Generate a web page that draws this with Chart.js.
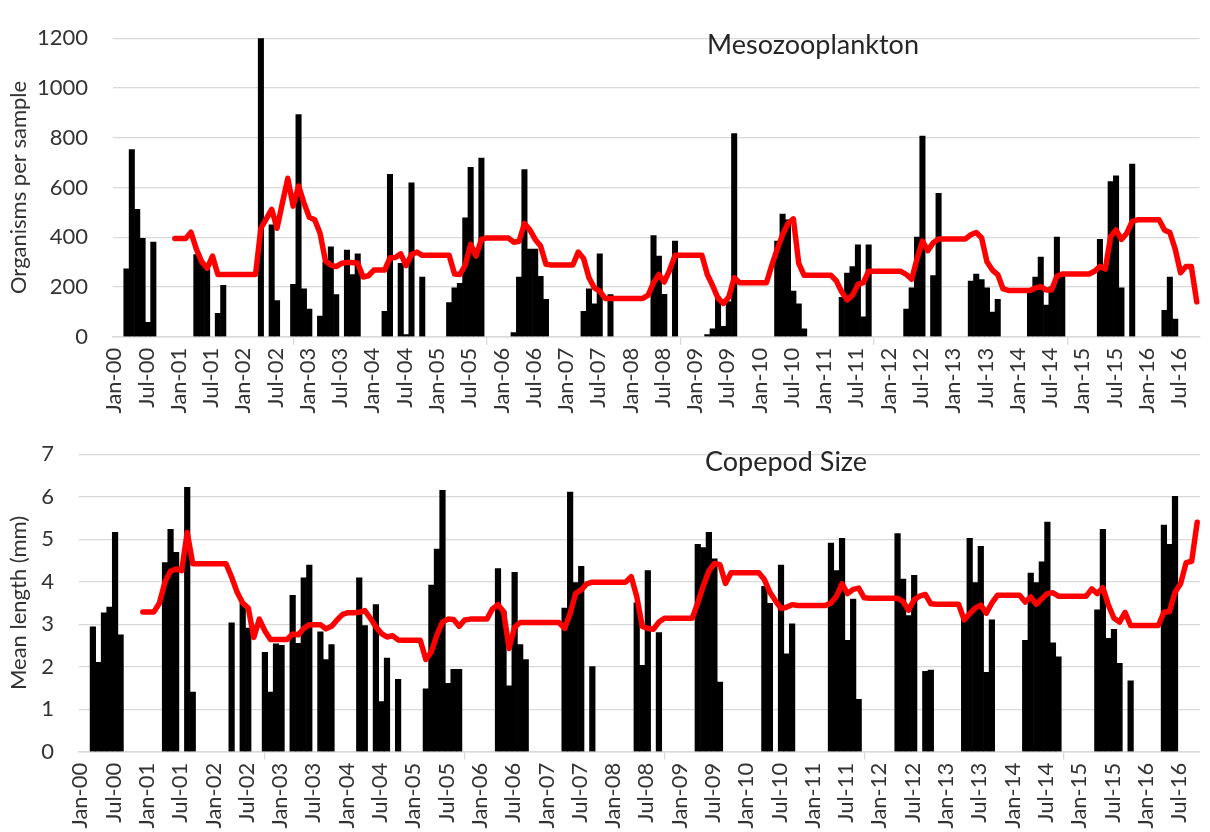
<!DOCTYPE html>
<html>
<head>
<meta charset="utf-8">
<script src="https://cdn.jsdelivr.net/npm/chart.js@4.4.1/dist/chart.umd.min.js"></script>
<style>
  html, body { margin: 0; padding: 0; background: #fff; overflow: hidden; }
  #wrap { position: relative; width: 1210px; height: 832px; }
  canvas { position: absolute; left: 0; }
  .ttl { position: absolute; font-family: Lato, 'Noto Sans', sans-serif; color: #262626;
         white-space: nowrap; transform: translate(-50%, -50%); font-size: 27px; }
</style>
</head>
<body>
<div id="wrap">
  <canvas id="meso" width="1210" height="416" style="top:0"></canvas>
  <canvas id="cope" width="1210" height="416" style="top:416px"></canvas>
  <div class="ttl" style="left:813px;top:43px">Mesozooplankton</div>
  <div class="ttl" style="left:786px;top:460px">Copepod Size</div>
</div>
<script>
// Monthly samples, Jan-00 .. Oct-16 (one row per year)
const monthNames = ['Jan','Feb','Mar','Apr','May','Jun','Jul','Aug','Sep','Oct','Nov','Dec'];
const months = [];
for (let y = 0; y <= 16; y++) {
  for (let m = 0; m < 12; m++) {
    if (months.length < 202) months.push(monthNames[m] + '-' + String(y).padStart(2, '0'));
  }
}

// Mesozooplankton abundance (organisms per sample)
const mesoCounts = [
  null, null, 273, 752, 512, 395, 58, 380, null, null, null, null,
  null, null, null, 330, 300, 270, null, 94, 207, null, null, null,
  null, null, null, 1200, null, 450, 145, null, null, 211, 893, 192,
  111, null, 83, 300, 361, 169, null, 348, 250, 333, null, null,
  null, null, 102, 653, null, 295, 9, 619, null, 240, null, null,
  null, null, 137, 196, 215, 478, 681, 330, 718, null, null, null,
  null, null, 17, 240, 672, 352, 352, 243, 150, null, null, null,
  null, null, null, 102, 192, 132, 333, null, 169, null, null, null,
  null, null, null, null, 407, 324, 170, null, 384, null, null, null,
  null, null, 9, 32, 160, 42, 141, 817, null, null, null, null,
  null, null, null, 384, 493, 470, 183, 132, 32, null, null, null,
  null, null, null, 158, 256, 282, 369, 80, 369, null, null, null,
  null, null, null, 111, 196, 400, 807, null, 246, 576, null, null,
  null, null, null, 224, 252, 230, 196, 99, 150, null, null, null,
  null, null, 190, 240, 320, 127, 200, 400, 245, null, null, null,
  null, null, null, 391, 280, 624, 647, 196, null, 694, null, null,
  null, null, null, 106, 240, 71, null, null, null, null
];

// Running mean of abundance
const mesoMean = [
  null, null, null, null, null, null, null, null, null, null, null, 395,
  395, 395, 420, 352, 301, 275, 324, 250, 250, 250, 250, 250,
  250, 250, 250, 436, 474, 512, 436, 538, 637, 525, 606, 538,
  480, 470, 416, 304, 288, 282, 295, 298, 298, 295, 240, 245,
  268, 268, 268, 317, 318, 333, 286, 330, 340, 327, 327, 327,
  327, 327, 327, 252, 250, 288, 371, 324, 391, 397, 397, 397,
  397, 397, 380, 384, 455, 430, 391, 365, 291, 288, 288, 288,
  288, 288, 340, 314, 237, 196, 183, 154, 154, 154, 154, 154,
  154, 154, 154, 167, 217, 250, 220, 268, 327, 327, 327, 327,
  327, 327, 250, 205, 154, 134, 160, 237, 217, 217, 217, 217,
  217, 217, 288, 352, 410, 455, 474, 295, 247, 247, 247, 247,
  247, 247, 224, 180, 148, 167, 210, 217, 263, 263, 263, 263,
  263, 263, 263, 250, 231, 314, 384, 346, 378, 393, 393, 393,
  393, 393, 393, 410, 419, 397, 301, 268, 250, 192, 186, 186,
  186, 186, 186, 196, 201, 188, 188, 243, 252, 252, 252, 252,
  252, 252, 263, 282, 272, 403, 429, 391, 416, 464, 470, 470,
  470, 470, 470, 429, 419, 352, 257, 282, 282, 140
];

// Copepod mean length (mm)
const copepodSize = [
  null, null, 2.94, 2.10, 3.27, 3.40, 5.16, 2.75, null, null, null, null,
  null, null, null, 4.45, 5.23, 4.69, null, 6.22, 1.40, null, null, null,
  null, null, null, 3.03, null, 3.49, 2.91, null, null, 2.34, 1.40, 2.54,
  2.50, null, 3.68, 2.55, 4.09, 4.39, null, 2.82, 2.17, 2.52, null, null,
  null, null, 4.09, 2.97, null, 3.46, 1.18, 2.20, null, 1.70, null, null,
  null, null, 1.48, 3.92, 4.77, 6.15, 1.61, 1.94, 1.94, null, null, null,
  null, null, null, 4.31, 3.30, 1.55, 4.22, 2.52, 2.17, null, null, null,
  null, null, null, 3.38, 6.11, 3.98, 4.36, null, 2.00, null, null, null,
  null, null, null, null, 3.50, 2.03, 4.26, null, 2.80, null, null, null,
  null, null, null, 4.88, 4.80, 5.16, 4.54, 1.64, null, null, null, null,
  null, null, null, 3.89, 3.49, null, 4.39, 2.30, 3.01, null, null, null,
  null, null, null, 4.91, 4.26, 5.02, 2.62, 3.59, 1.23, null, null, null,
  null, null, null, 5.13, 4.06, 3.20, 4.15, null, 1.89, 1.92, null, null,
  null, null, null, 3.10, 5.02, 3.98, 4.83, 1.87, 3.10, null, null, null,
  null, null, 2.62, 4.20, 3.98, 4.47, 5.40, 2.56, 2.23, null, null, null,
  null, null, null, 3.34, 5.23, 2.67, 2.88, 2.08, null, 1.67, null, null,
  null, null, null, 5.33, 4.88, 6.01, null, null, null, null
];

// Running mean of copepod length
const copepodMean = [
  null, null, null, null, null, null, null, null, null, null, null, 3.29,
  3.29, 3.29, 3.50, 4.00, 4.25, 4.30, 4.26, 5.16, 4.42, 4.42, 4.42, 4.42,
  4.42, 4.42, 4.42, 4.11, 3.75, 3.50, 3.38, 2.69, 3.12, 2.84, 2.64, 2.64,
  2.64, 2.64, 2.77, 2.75, 2.90, 2.99, 2.99, 2.99, 2.89, 2.95, 3.10, 3.23,
  3.27, 3.27, 3.28, 3.32, 3.14, 2.94, 2.78, 2.70, 2.73, 2.63, 2.62, 2.62,
  2.62, 2.62, 2.17, 2.35, 2.75, 3.05, 3.12, 3.11, 2.95, 3.10, 3.12, 3.12,
  3.12, 3.12, 3.36, 3.46, 3.30, 2.43, 2.93, 3.04, 3.04, 3.04, 3.04, 3.04,
  3.04, 3.04, 3.04, 2.90, 3.25, 3.72, 3.81, 3.95, 3.99, 3.99, 3.99, 3.99,
  3.99, 3.99, 3.99, 4.12, 3.65, 2.95, 2.90, 2.88, 3.05, 3.14, 3.14, 3.14,
  3.14, 3.14, 3.14, 3.50, 3.90, 4.25, 4.43, 4.40, 3.96, 4.21, 4.21, 4.21,
  4.21, 4.21, 4.21, 4.05, 3.75, 3.55, 3.37, 3.40, 3.46, 3.44, 3.44, 3.44,
  3.44, 3.44, 3.44, 3.50, 3.66, 3.95, 3.72, 3.82, 3.85, 3.62, 3.61, 3.61,
  3.61, 3.61, 3.61, 3.61, 3.53, 3.33, 3.58, 3.66, 3.70, 3.48, 3.47, 3.47,
  3.47, 3.47, 3.47, 3.10, 3.25, 3.38, 3.45, 3.26, 3.50, 3.68, 3.68, 3.68,
  3.68, 3.68, 3.52, 3.64, 3.47, 3.60, 3.72, 3.74, 3.66, 3.66, 3.66, 3.66,
  3.66, 3.66, 3.83, 3.72, 3.86, 3.45, 3.14, 3.05, 3.28, 2.97, 2.97, 2.97,
  2.97, 2.97, 2.97, 3.28, 3.30, 3.75, 3.95, 4.45, 4.48, 5.40
];

Chart.defaults.font.family = "Lato, 'Noto Sans', sans-serif";
Chart.defaults.color = '#333';

const GRID = '#d9d9d9';

function panel(id, bars, mean, axis, box) {
  return new Chart(document.getElementById(id), {
    type: 'bar',
    data: {
      labels: months,
      datasets: [
        { type: 'line', data: mean, borderColor: '#ff0000', borderWidth: 5.5,
          pointRadius: 0, pointHoverRadius: 0, tension: 0, spanGaps: false,
          borderJoinStyle: 'round', borderCapStyle: 'round', order: 0 },
        { type: 'bar', data: bars, backgroundColor: '#000000', borderWidth: 0,
          categoryPercentage: 1, barPercentage: 1, order: 1 }
      ]
    },
    options: {
      responsive: false,
      animation: false,
      devicePixelRatio: 1,
      layout: { padding: { top: box.padTop, right: box.padRight, left: 0, bottom: 0 } },
      plugins: { legend: { display: false }, tooltip: { enabled: false } },
      scales: {
        x: {
          offset: true,
          grid: {
            offset: true, drawOnChartArea: false, drawTicks: true, tickLength: 8,
            lineWidth: 1.3, color: GRID,
            tickColor: (c) => (c.index % 6 === 0 ? GRID : 'rgba(0,0,0,0)')
          },
          border: { display: true, color: GRID, width: 1.5 },
          ticks: {
            autoSkip: false, maxRotation: 90, minRotation: 90, padding: 3,
            labelOffset: -1.5, font: { size: 22 }, color: '#333',
            callback: function (v, i) { return i % 6 === 0 ? this.getLabelForValue(v) : null; }
          },
          afterFit: (s) => { s.height = box.xHeight; }
        },
        y: {
          min: 0, max: axis.max,
          ticks: { stepSize: axis.step, padding: 25, font: { size: 22 }, color: '#333',
                   format: { useGrouping: false } },
          grid: { color: GRID, lineWidth: 1.3, drawTicks: false },
          border: { display: false },
          title: { display: true, text: axis.title, font: { size: 22 }, color: '#333',
                   padding: { top: 6, bottom: 0 } },
          afterFit: (s) => { s.width = box.yWidth; }
        }
      }
    }
  });
}

panel('meso', mesoCounts, mesoMean,
      { max: 1200, step: 200, title: 'Organisms per sample' },
      { padTop: 24.3, padRight: 0, xHeight: 79.3, yWidth: 113 });

panel('cope', copepodSize, copepodMean,
      { max: 7, step: 1, title: 'Mean length (mm)' },
      { padTop: 23.4, padRight: 1.8, xHeight: 80.3, yWidth: 79 });
</script>
</body>
</html>
